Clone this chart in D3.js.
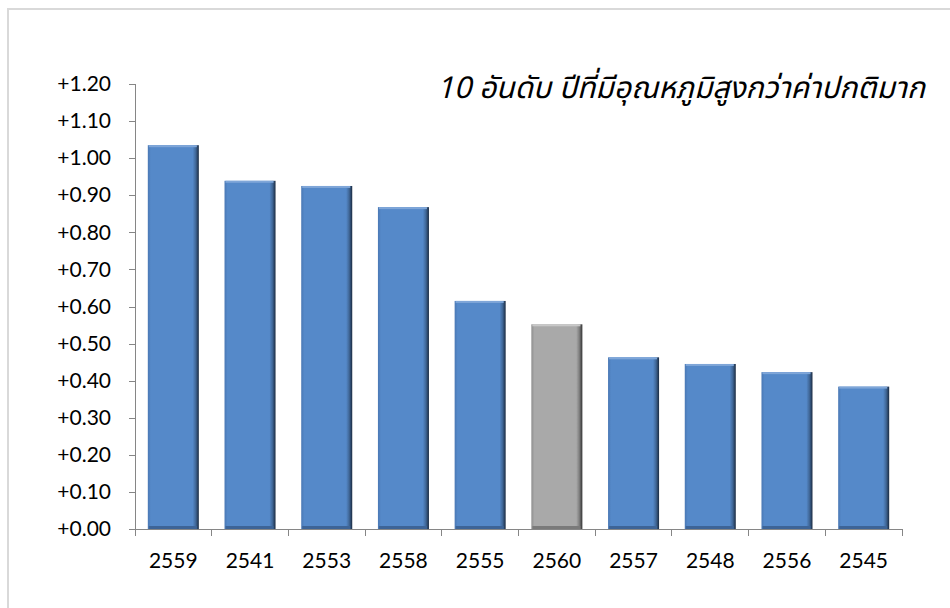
<!DOCTYPE html>
<html>
<head>
<meta charset="utf-8">
<script src="https://cdn.jsdelivr.net/npm/d3@7"></script>
<style>
  body{ margin:0; background:#fff; }
  svg{ display:block; }
</style>
</head>
<body>
<div id="chart"></div>
<script>
// data
var years = ['2559','2541','2553','2558','2555','2560','2557','2548','2556','2545'];
var anomalies = [1.035, 0.939, 0.925, 0.868, 0.615, 0.552, 0.463, 0.445, 0.423, 0.384];
var highlightYear = '2560';
var yTicks = [0,0.1,0.2,0.3,0.4,0.5,0.6,0.7,0.8,0.9,1.0,1.1,1.2];
var title = '10 อันดับ ปีที่มีอุณหภูมิสูงกว่าค่าปกติมาก';

var W = 950, H = 608;
var svg = d3.select('#chart').append('svg')
  .attr('width', W).attr('height', H);

// frame
svg.append('rect')
  .attr('x', 8).attr('y', 9)
  .attr('width', 960).attr('height', 620)
  .style('fill','none')
  .style('stroke','#D9D9D9')
  .style('stroke-width', 2);

var defs = svg.append('defs');
function bevel(id, light, mid, dark){
  var g = defs.append('linearGradient').attr('id', id)
    .attr('x1','0').attr('x2','1').attr('y1','0').attr('y2','0');
  g.append('stop').attr('offset','0').attr('stop-color', light);
  g.append('stop').attr('offset','0.06').attr('stop-color', mid);
  g.append('stop').attr('offset','0.88').attr('stop-color', mid);
  g.append('stop').attr('offset','0.94').attr('stop-color', d3.color(mid).darker(0.8));
  g.append('stop').attr('offset','1').attr('stop-color', dark);
}
bevel('blueBar', '#4A78B4', '#5589C9', '#1A2A40');
bevel('grayBar', '#8E8E8E', '#A9A9A9', '#333333');

var plotLeft = 135, plotRight = 902, plotTop = 84, plotBottom = 529;

var x = d3.scaleBand().domain(years).range([plotLeft, plotRight]).paddingInner(0.335).paddingOuter(0.167);
var y = d3.scaleLinear().domain([0, 1.2]).range([plotBottom, plotTop]);

// bars
var bars = svg.append('g').selectAll('g.bar')
  .data(years.map(function(d, i){ return {year: d, value: anomalies[i]}; }))
  .enter().append('g').attr('class','bar');

bars.append('rect')
  .attr('x', function(d){ return x(d.year); })
  .attr('y', function(d){ return y(d.value); })
  .attr('width', x.bandwidth())
  .attr('height', function(d){ return y(0) - y(d.value); })
  .style('fill', function(d){ return d.year == highlightYear ? 'url(#grayBar)' : 'url(#blueBar)'; });

// light top edge
bars.append('rect')
  .attr('x', function(d){ return x(d.year) + 1; })
  .attr('y', function(d){ return y(d.value); })
  .attr('width', x.bandwidth() - 3)
  .attr('height', 2)
  .style('fill', function(d){ return d.year == highlightYear ? '#C8C8C8' : '#7FA6D8'; });

// darker bottom edge
bars.append('rect')
  .attr('x', function(d){ return x(d.year) + 1; })
  .attr('y', y(0) - 3)
  .attr('width', x.bandwidth() - 3)
  .attr('height', 3)
  .style('fill', function(d){ return d.year == highlightYear ? '#7A7A7A' : '#3D6497'; });

// y axis
var yAxis = d3.axisLeft(y)
  .tickValues(yTicks)
  .tickSize(6)
  .tickPadding(18)
  .tickFormat(function(d){ return '+' + d3.format('.2f')(d); });

var gy = svg.append('g')
  .attr('transform','translate(' + plotLeft + ',0)')
  .call(yAxis);

// x axis
var gx = svg.append('g')
  .attr('transform','translate(0,' + plotBottom + ')');
gx.append('line')
  .attr('x1', plotLeft).attr('x2', plotRight)
  .attr('y1', 0).attr('y2', 0);
gx.selectAll('line.tick')
  .data(d3.range(years.length + 1))
  .enter().append('line')
  .attr('class','tick')
  .attr('x1', function(i){ return plotLeft + i * x.step(); })
  .attr('x2', function(i){ return plotLeft + i * x.step(); })
  .attr('y1', 0).attr('y2', 7);
gx.selectAll('text')
  .data(years)
  .enter().append('text')
  .attr('x', function(d){ return x(d) + x.bandwidth() / 2; })
  .attr('y', 39)
  .attr('text-anchor','middle')
  .text(function(d){ return d; });

svg.selectAll('.domain, .tick line, g line')
  .style('stroke','#868686')
  .style('stroke-width', 1)
  .style('shape-rendering','crispEdges');

svg.selectAll('text')
  .style('font-family','Lato, "Open Sans", sans-serif')
  .style('font-size','21px')
  .style('fill','#000');

// title
svg.append('text')
  .attr('x', 925)
  .attr('y', 98)
  .attr('text-anchor','end')
  .style('font-family','"Noto Sans Thai", "Noto Sans", sans-serif')
  .style('font-style','italic')
  .style('font-size','30px')
  .style('fill','#000')
  .text(title);
</script>
</body>
</html>
